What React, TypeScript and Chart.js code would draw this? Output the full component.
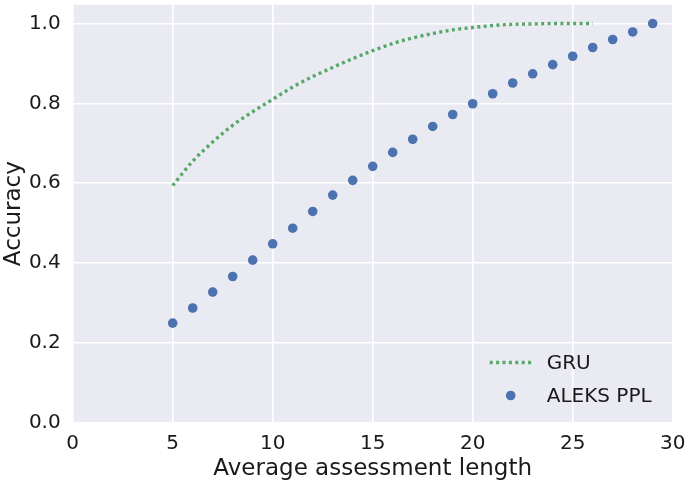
import React, { useEffect, useRef } from "react";
import { Chart, registerables } from "chart.js";

Chart.register(...registerables);

const gruLengths = [5, 6, 7, 8, 9, 10, 11, 12, 13, 14, 15, 16, 17, 18, 19, 20, 21, 22, 23, 24, 25, 26];
const gruAccuracy = [0.594, 0.655, 0.703, 0.745, 0.779, 0.81, 0.841, 0.867, 0.89, 0.912, 0.932, 0.95, 0.964, 0.975, 0.984, 0.99, 0.995, 0.998, 0.999, 1.0, 1.0, 1.0];

const aleksLengths = [5, 6, 7, 8, 9, 10, 11, 12, 13, 14, 15, 16, 17, 18, 19, 20, 21, 22, 23, 24, 25, 26, 27, 28, 29];
const aleksAccuracy = [0.249, 0.287, 0.327, 0.366, 0.407, 0.448, 0.487, 0.529, 0.57, 0.607, 0.642, 0.677, 0.71, 0.742, 0.772, 0.799, 0.824, 0.851, 0.874, 0.897, 0.918, 0.94, 0.96, 0.979, 1.0];

const yTickValues = [0, 0.2, 0.4, 0.6, 0.8, 1.0];
const seriesLabels = ["GRU", "ALEKS PPL"];
const xTitle = "Average assessment length";
const yTitle = "Accuracy";

const FONT = "'DejaVu Sans', sans-serif";
const TEXT = "#1a1a1a";

const bgPlugin = {
  id: "bgPlugin",
  beforeDraw(chart: any) {
    const { ctx, chartArea } = chart;
    ctx.save();
    ctx.fillStyle = "#EAEAF2";
    ctx.fillRect(chartArea.left, chartArea.top, chartArea.right - chartArea.left, chartArea.bottom - chartArea.top);
    ctx.restore();
  },
};

const legendPlugin = {
  id: "insideLegend",
  afterDatasetsDraw(chart: any) {
    const { ctx, chartArea } = chart;
    const ds = chart.data.datasets;
    const r = chartArea.right;
    const b = chartArea.bottom;
    ctx.save();
    ctx.font = `20px ${FONT}`;
    ctx.textBaseline = "middle";
    ctx.textAlign = "left";
    // GRU
    const y1 = b - 60;
    ctx.strokeStyle = ds[0].borderColor;
    ctx.lineWidth = ds[0].borderWidth;
    ctx.setLineDash(ds[0].borderDash);
    ctx.beginPath();
    ctx.moveTo(r - 183, y1);
    ctx.lineTo(r - 140, y1);
    ctx.stroke();
    ctx.setLineDash([]);
    ctx.fillStyle = TEXT;
    ctx.fillText(ds[0].label, r - 126, y1 + 1);
    // ALEKS
    const y2 = b - 27;
    ctx.fillStyle = ds[1].backgroundColor;
    ctx.beginPath();
    ctx.arc(r - 162, y2, ds[1].pointRadius, 0, Math.PI * 2);
    ctx.fill();
    ctx.fillStyle = TEXT;
    ctx.fillText(ds[1].label, r - 126, y2 + 1);
    ctx.restore();
  },
};

export default function App() {
  const ref = useRef<HTMLCanvasElement | null>(null);

  useEffect(() => {
    if (!ref.current) return;
    const chart = new Chart(ref.current, {
      type: "line",
      data: {
        datasets: [
          {
            label: seriesLabels[0],
            data: gruLengths.map((x, i) => ({ x, y: gruAccuracy[i] })),
            borderColor: "#55A868",
            backgroundColor: "#55A868",
            borderWidth: 3.4,
            borderDash: [3, 3.4],
            pointRadius: 0,
            cubicInterpolationMode: "monotone",
            showLine: true,
            order: 2,
          },
          {
            label: seriesLabels[1],
            data: aleksLengths.map((x, i) => ({ x, y: aleksAccuracy[i] })),
            borderColor: "#4C72B0",
            backgroundColor: "#4C72B0",
            pointBackgroundColor: "#4C72B0",
            pointBorderWidth: 0,
            pointRadius: 4.8,
            showLine: false,
            order: 1,
          },
        ],
      } as any,
      options: {
        animation: false,
        responsive: false,
        maintainAspectRatio: false,
        layout: { padding: { left: 0, right: 12.3, top: 0, bottom: 0 } },
        plugins: {
          legend: { display: false },
          tooltip: { enabled: false },
        },
        scales: {
          x: {
            type: "linear",
            min: 0,
            max: 30,
            border: { display: false },
            grid: { color: "#ffffff", lineWidth: 1.6, drawTicks: false },
            ticks: {
              stepSize: 5,
              padding: 9,
              color: TEXT,
              font: { family: FONT, size: 20 },
            },
            title: {
              display: true,
              text: xTitle,
              color: TEXT,
              font: { family: FONT, size: 23 },
              padding: { top: 0, bottom: 0 },
            },
            afterFit(scale: any) {
              scale.height = 60.5;
              scale.paddingLeft = 0;
              scale.paddingRight = 0;
            },
          },
          y: {
            type: "linear",
            min: 0,
            max: 1.047,
            border: { display: false },
            grid: { color: "#ffffff", lineWidth: 1.6, drawTicks: false },
            ticks: {
              padding: 12,
              color: TEXT,
              font: { family: FONT, size: 20 },
              callback: (v: any) => Number(v).toFixed(1),
            },
            afterBuildTicks(scale: any) {
              scale.ticks = yTickValues.map((v) => ({ value: v }));
            },
            title: {
              display: true,
              text: yTitle,
              color: TEXT,
              font: { family: FONT, size: 23 },
              padding: { top: 0, bottom: 0 },
            },
            afterFit(scale: any) {
              scale.width = 72.7;
              scale.paddingTop = 0;
              scale.paddingBottom = 0;
            },
          },
        },
      } as any,
      plugins: [bgPlugin, legendPlugin],
    });
    return () => chart.destroy();
  }, []);

  return (
    <div style={{ position: "fixed", left: 0, top: 0, width: 685, height: 483, background: "#ffffff" }}>
      <canvas ref={ref} width={685} height={483} style={{ width: 685, height: 483, display: "block" }} />
    </div>
  );
}
